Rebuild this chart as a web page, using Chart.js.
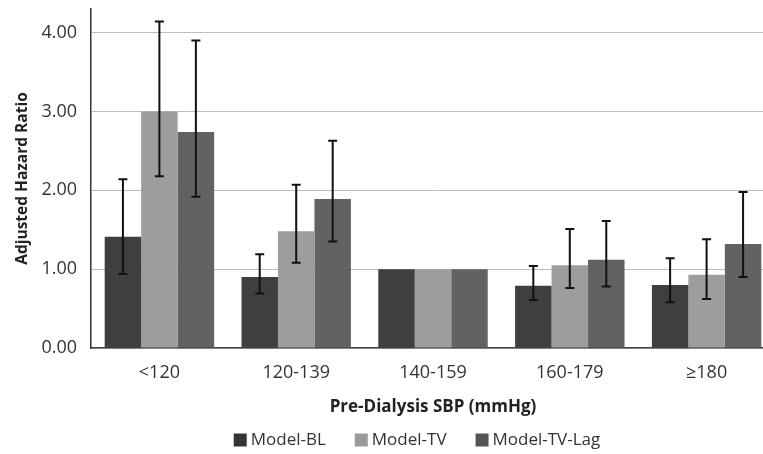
<!DOCTYPE html>
<html>
<head>
<meta charset="utf-8">
<script src="https://cdn.jsdelivr.net/npm/chart.js@4/dist/chart.umd.min.js"></script>
<style>
  html, body { margin: 0; padding: 0; background: #fff; overflow: hidden; }
  #wrap { width: 775px; height: 454px; }
</style>
</head>
<body>
<div id="wrap"><canvas id="grafico" width="775" height="454"></canvas></div>
<script>
// categories and series
const categorias = ["<120", "120-139", "140-159", "160-179", "≥180"];
const modeloBL = [1.41, 0.90, 1.00, 0.79, 0.80];
const modeloBLlo = [0.94, 0.69, null, 0.61, 0.58];
const modeloBLhi = [2.14, 1.19, null, 1.04, 1.14];
const modeloTV = [3.00, 1.48, 1.00, 1.05, 0.93];
const modeloTVlo = [2.18, 1.08, null, 0.76, 0.62];
const modeloTVhi = [4.14, 2.07, null, 1.51, 1.38];
const modeloLag = [2.74, 1.89, 1.00, 1.12, 1.32];
const modeloLaglo = [1.92, 1.35, null, 0.78, 0.90];
const modeloLaghi = [3.90, 2.63, null, 1.61, 1.98];
const yTicks = [0, 1, 2, 3, 4];

const fonte = "'Open Sans', 'Noto Sans', sans-serif";

// --- error bars drawn from the y scale ---
const barrasErro = {
  id: "barrasErro",
  afterDatasetsDraw(chart) {
    const ctx = chart.ctx;
    const y = chart.scales.y;
    ctx.save();
    ctx.strokeStyle = "#111";
    ctx.lineWidth = 2;
    chart.data.datasets.forEach((ds, i) => {
      const meta = chart.getDatasetMeta(i);
      meta.data.forEach((bar, j) => {
        const lo = ds.lo[j], hi = ds.hi[j];
        if (lo == null || hi == null) return;
        const yl = y.getPixelForValue(lo), yh = y.getPixelForValue(hi);
        ctx.beginPath();
        ctx.moveTo(bar.x, yl); ctx.lineTo(bar.x, yh);
        ctx.moveTo(bar.x - 4.5, yl); ctx.lineTo(bar.x + 4.5, yl);
        ctx.moveTo(bar.x - 4.5, yh); ctx.lineTo(bar.x + 4.5, yh);
        ctx.stroke();
      });
    });
    ctx.restore();
  }
};

// --- legend below the axis title ---
const legendaBaixo = {
  id: "legendaBaixo",
  afterDraw(chart) {
    const ctx = chart.ctx;
    ctx.save();
    ctx.font = "17px " + fonte;
    ctx.textBaseline = "middle";
    const caixa = 13, gap = 4, entre = 29;
    const itens = chart.data.datasets.map(ds => ({ txt: ds.label, cor: ds.legendColor, w: ctx.measureText(ds.label).width }));
    const total = itens.reduce((s, it) => s + caixa + gap + it.w, 0) + entre * (itens.length - 1);
    let x = 417 - total / 2;
    const yc = 440;
    itens.forEach(it => {
      ctx.fillStyle = it.cor;
      ctx.fillRect(x, yc - caixa / 2, caixa, caixa);
      x += caixa + gap;
      ctx.fillStyle = "#333";
      ctx.fillText(it.txt, x, yc);
      x += it.w + entre;
    });
    ctx.restore();
  }
};

const ctx = document.getElementById("grafico").getContext("2d");

new Chart(ctx, {
  type: "bar",
  data: {
    labels: categorias,
    datasets: [
      { label: "Model-BL", data: modeloBL, lo: modeloBLlo, hi: modeloBLhi, backgroundColor: "#3f3f3f", legendColor: "#353535" },
      { label: "Model-TV", data: modeloTV, lo: modeloTVlo, hi: modeloTVhi, backgroundColor: "#9d9d9d", legendColor: "#9a9a9a" },
      { label: "Model-TV-Lag", data: modeloLag, lo: modeloLaglo, hi: modeloLaghi, backgroundColor: "#626262", legendColor: "#555" },
    ],
  },
  options: {
    responsive: false,
    animation: false,
    layout: { padding: { top: 9, bottom: 34, left: 0, right: 0 } },
    plugins: { legend: { display: false }, tooltip: { enabled: false } },
    datasets: { bar: { categoryPercentage: 0.8, barPercentage: 1.0 } },
    scales: {
      x: {
        grid: { display: false, drawTicks: false },
        border: { color: "#444", width: 1.5 },
        ticks: { color: "#333", font: { family: fonte, size: 18 }, padding: 14 },
        title: { display: true, text: "Pre-Dialysis SBP (mmHg)", color: "#222", font: { family: fonte, size: 17, weight: "bold" }, padding: { top: 4, bottom: 3 } },
        afterFit: (s) => { s.height = 72; s.paddingLeft = 0; s.paddingRight = 0; },
      },
      y: {
        min: 0,
        max: 4.3,
        afterBuildTicks: (s) => { s.ticks = yTicks.map(v => ({ value: v })); },
        grid: { color: "#bdbdbd", lineWidth: 1, drawTicks: false },
        border: { color: "#333", width: 1.5 },
        ticks: { color: "#333", font: { family: fonte, size: 18 }, padding: 14, callback: (v) => Number(v).toFixed(2) },
        title: { display: true, text: "Adjusted Hazard Ratio", color: "#222", font: { family: fonte, size: 15.5, weight: "bold" }, padding: { top: 13, bottom: 4 } },
        afterFit: (s) => { s.width = 91; s.paddingTop = 0; s.paddingBottom = 0; },
      },
    },
  },
  plugins: [barrasErro, legendaBaixo],
});
</script>
</body>
</html>
